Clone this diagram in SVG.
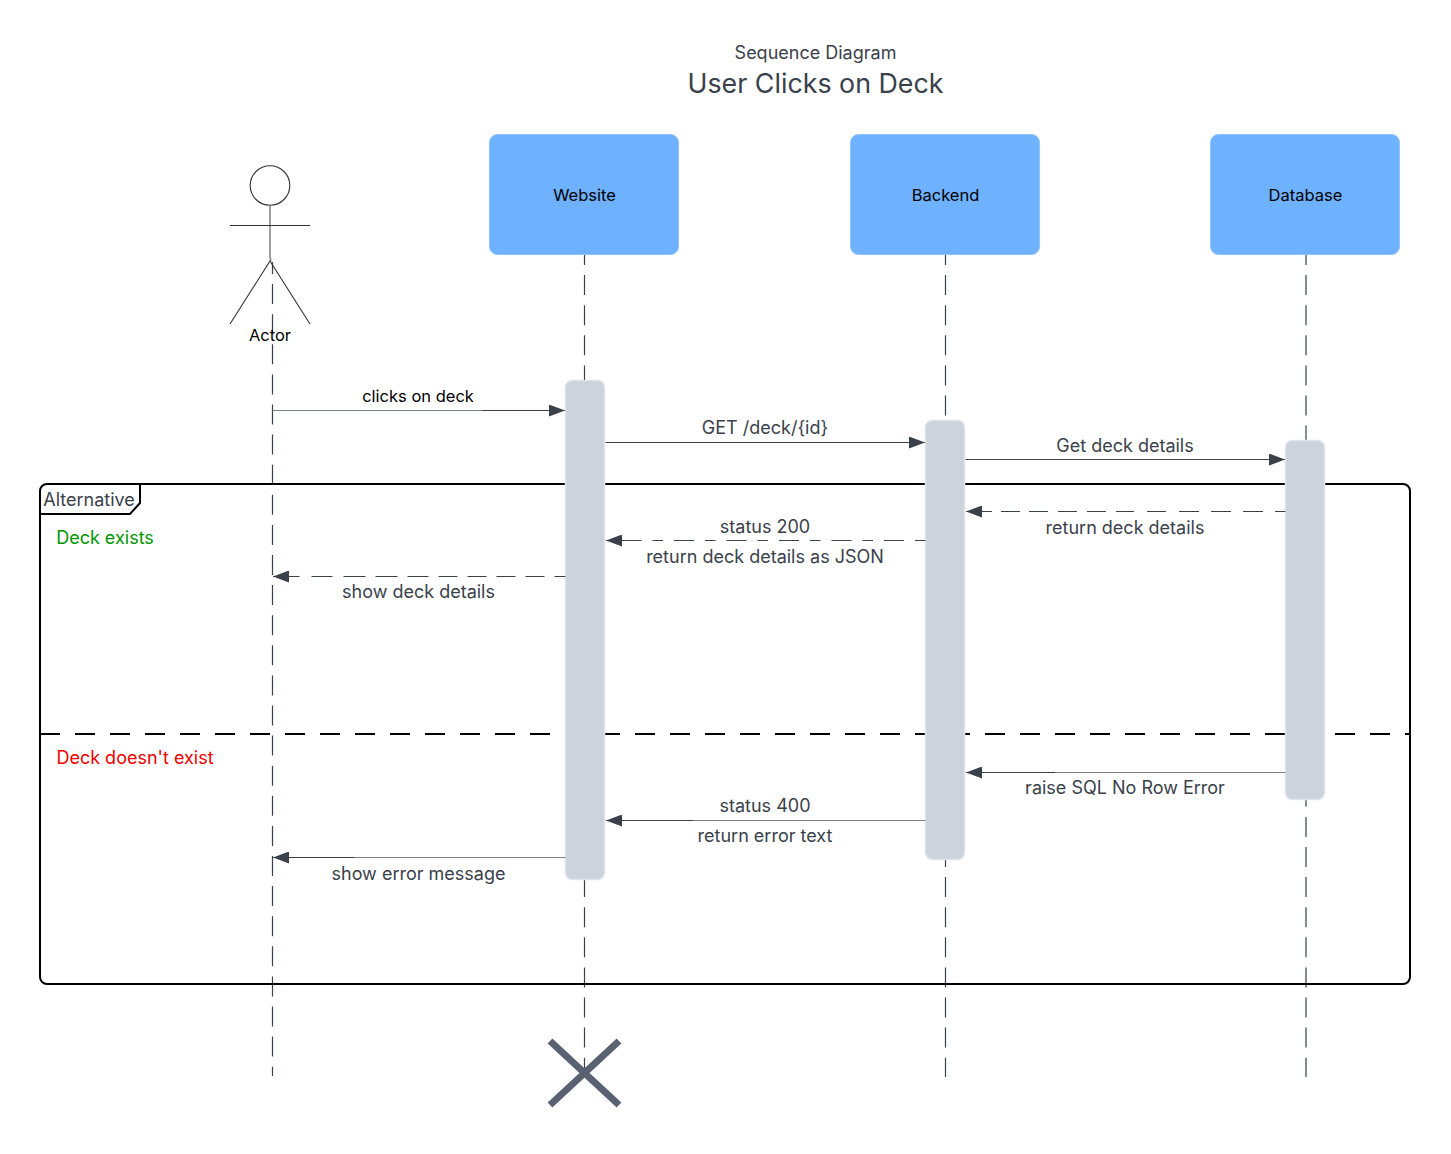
<svg xmlns="http://www.w3.org/2000/svg" width="1451" height="1154" viewBox="0 0 1451 1154">
<style>
text{font-family:Inter,"Liberation Sans",sans-serif;text-anchor:middle;font-size:18px;fill:#3a414a}
.b{fill:#000;font-size:16.500px}
.life{stroke:#3a414a;stroke-width:1.2;stroke-dasharray:20 10.100;stroke-dashoffset:10;fill:none}
.msg{stroke:#3a414a;stroke-width:1.2;fill:none}
.grey{stroke:#7c8088;stroke-width:1.2;fill:none}
.part{fill:#6db1ff;stroke:#8fc3ff}
.act{fill:#cdd3dc;stroke:#dfe3e8;stroke-width:1.5}
.fr{fill:none;stroke:#000;stroke-width:2}
.stick{fill:none;stroke:#333;stroke-width:1.1}
</style>
<defs>
<marker id="a" markerUnits="userSpaceOnUse" markerWidth="16" markerHeight="12" refX="16" refY="6" orient="auto"><path d="M0 0L16 6L0 12Z" fill="#3a414a"/></marker>
</defs>
<rect width="1451" height="1154" fill="#fff"/>
<g id="title">
<text x="815.500" y="58.500" style="font-size:18px">Sequence Diagram</text>
<text x="815.500" y="93" style="font-size:26.800px">User Clicks on Deck</text>
</g>
<g id="lifelines">
<path class="life" style="stroke-dashoffset:8" d="M272.500 262V1076"/>
<path class="life" d="M584.500 255V1077"/>
<path class="life" d="M945.500 255V1077"/>
<path class="life" d="M1306 255V1077"/>
</g>
<g id="frame">
<rect class="fr" x="40" y="484" width="1370" height="500" rx="7"/>
<path class="fr" d="M140 484V503L130 514H40"/>
<path class="fr" style="stroke-dasharray:20 15" d="M40 734H1410"/>
<text x="89" y="506">Alternative</text>
<text x="105" y="543.500" style="fill:#009600">Deck exists</text>
<text x="135" y="763.500" style="fill:#f00000">Deck doesn't exist</text>
</g>
<g id="actor">
<circle class="stick" cx="270" cy="185.500" r="19.800"/>
<path d="M270 205V258L271 261" fill="none" stroke="#777" stroke-width="1.400"/>
<path class="stick" d="M230 225.500H310M230 324L270 261L310 324"/>
<text class="b" x="270" y="341">Actor</text>
</g>
<g id="website"><rect class="part" x="489.500" y="134.500" width="189" height="120" rx="8"/><text class="b" x="584.500" y="201">Website</text></g>
<g id="backend"><rect class="part" x="850.500" y="134.500" width="189" height="120" rx="8"/><text class="b" x="945.500" y="201">Backend</text></g>
<g id="database"><rect class="part" x="1210.500" y="134.500" width="189" height="120" rx="8"/><text class="b" x="1305.500" y="201">Database</text></g>
<g id="activation-website"><rect class="act" x="565.500" y="380.500" width="39" height="499" rx="7"/></g>
<g id="activation-backend"><rect class="act" x="925.500" y="420.500" width="39" height="439" rx="7"/></g>
<g id="activation-database"><rect class="act" x="1285.500" y="440.500" width="39" height="359" rx="7"/></g>
<g id="connectors">
<path class="grey" d="M272.500 410.500H482"/>
<path class="msg" marker-end="url(#a)" d="M482 410.500H565"/>
<path class="msg" marker-end="url(#a)" d="M605.500 442.500H925"/>
<path class="msg" marker-end="url(#a)" d="M965.500 459.500H1285"/>
<path class="msg" style="stroke-dasharray:10.500 12 20 12 20 12 20 13 19 13 18 10 19 10 19 10 19 9 19 9 30" marker-end="url(#a)" d="M1285.500 511.500H966"/>
<path class="msg" style="stroke-dasharray:10.500 11 20 11" marker-end="url(#a)" d="M925.500 540.500H606"/>
<path class="msg" style="stroke-dasharray:11 10 19 10 19 10 19 10 19 10 21 10 22 10 22 11 21 12 30" marker-end="url(#a)" d="M565.500 576.500H273"/>
<path class="grey" d="M1285.500 772.500H1055"/>
<path class="msg" marker-end="url(#a)" d="M1055 772.500H966"/>
<path class="grey" d="M925.500 820.500H693"/>
<path class="msg" marker-end="url(#a)" d="M693 820.500H606"/>
<path class="grey" d="M565.500 857.500H354"/>
<path class="msg" marker-end="url(#a)" d="M354 857.500H273"/>
</g>
<g id="labels">
<text class="b" x="418" y="402">clicks on deck</text>
<text x="765" y="433.500">GET /deck/{id}</text>
<text x="1125" y="451.500">Get deck details</text>
<text x="1125" y="533.500">return deck details</text>
<text x="765" y="532.500">status 200</text>
<text x="765" y="562.500">return deck details as JSON</text>
<text x="418.500" y="597.500">show deck details</text>
<text x="1125" y="793.500">raise SQL No Row Error</text>
<text x="765" y="811.500">status 400</text>
<text x="765" y="841.500">return error text</text>
<text x="418.500" y="879.500">show error message</text>
</g>
<g id="destroy"><path d="M550 1041L619 1105M619 1041L550 1105" stroke="#5a6272" stroke-width="7" fill="none"/></g>
</svg>
